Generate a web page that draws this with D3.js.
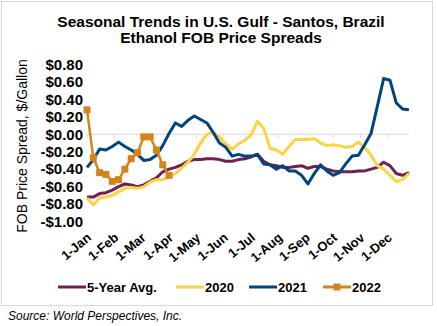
<!DOCTYPE html>
<html>
<head>
<meta charset="utf-8">
<script src="https://cdn.jsdelivr.net/npm/d3@7/dist/d3.min.js"></script>
<style>
  html, body { margin: 0; padding: 0; background: #fff; }
  svg { display: block; font-family: "Liberation Sans", Arial, sans-serif; }
</style>
</head>
<body>
<svg id="chart" width="437" height="326"></svg>
<script>
// Month tick labels along the horizontal axis
const monthLabels = ["1-Jan","1-Feb","1-Mar","1-Apr","1-May","1-Jun","1-Jul","1-Aug","1-Sep","1-Oct","1-Nov","1-Dec"];
// Vertical axis ticks ($/gallon)
const yTicks = [-1.0, -0.8, -0.6, -0.4, -0.2, 0.0, 0.2, 0.4, 0.6, 0.8];

// Weekly spreads, $/gallon (52 weeks)
const avg5Year = [-0.72,-0.72,-0.68,-0.67,-0.64,-0.60,-0.57,-0.58,-0.60,-0.58,-0.54,-0.50,-0.43,-0.40,-0.38,-0.35,-0.31,-0.29,-0.29,-0.28,-0.28,-0.29,-0.31,-0.31,-0.29,-0.28,-0.26,-0.23,-0.31,-0.35,-0.36,-0.38,-0.38,-0.37,-0.36,-0.39,-0.37,-0.37,-0.40,-0.42,-0.43,-0.43,-0.43,-0.42,-0.42,-0.40,-0.38,-0.32,-0.36,-0.45,-0.47,-0.44];
const y2020 = [-0.73,-0.81,-0.73,-0.72,-0.70,-0.66,-0.62,-0.61,-0.62,-0.60,-0.55,-0.52,-0.52,-0.49,-0.45,-0.39,-0.32,-0.23,-0.10,0.00,0.02,-0.03,-0.11,-0.17,-0.11,-0.07,-0.01,0.15,0.07,-0.16,-0.18,-0.23,-0.14,-0.06,-0.06,-0.06,-0.05,-0.10,-0.13,-0.12,-0.13,-0.15,-0.14,-0.09,-0.15,-0.24,-0.36,-0.40,-0.47,-0.54,-0.52,-0.45];
const y2021 = [-0.38,-0.29,-0.17,-0.18,-0.14,-0.09,-0.14,-0.18,-0.23,-0.30,-0.29,-0.24,-0.13,0.01,0.13,0.09,0.16,0.21,0.17,0.13,0.02,-0.10,-0.15,-0.25,-0.23,-0.25,-0.25,-0.23,-0.34,-0.35,-0.40,-0.36,-0.42,-0.42,-0.47,-0.57,-0.45,-0.35,-0.42,-0.47,-0.44,-0.34,-0.25,-0.24,-0.12,0.01,0.32,0.64,0.62,0.36,0.29,0.28];
const y2022 = [0.28,-0.27,-0.44,-0.46,-0.54,-0.52,-0.40,-0.28,-0.21,-0.03,-0.03,-0.18,-0.35,-0.47];

const seriesNames = ["5-Year Avg.", "2020", "2021", "2022"];
const seriesColors = ["#71204F", "#FDD344", "#00457F", "#D4841A"];
const seriesValues = [avg5Year, y2020, y2021, y2022];

const WEEKS_PER_YEAR = 52;
const svg = d3.select("#chart");

// Outer frame
svg.append("rect")
  .attr("x", 1.5).attr("y", 1.5).attr("width", 431).attr("height", 304)
  .attr("fill", "#fff").attr("stroke", "#d9d9d9").attr("stroke-width", 1);

// Title (two lines)
svg.append("text")
  .attr("x", 221).attr("y", 27)
  .attr("text-anchor", "middle")
  .attr("font-size", 15.5).attr("font-weight", "bold").attr("fill", "#000")
  .text("Seasonal Trends in U.S. Gulf - Santos, Brazil");
svg.append("text")
  .attr("x", 221).attr("y", 43)
  .attr("text-anchor", "middle")
  .attr("font-size", 15.5).attr("font-weight", "bold").attr("fill", "#000")
  .text("Ethanol FOB Price Spreads");

// Scales: x in months since 1-Jan, weekly points placed at week*12/52
const x = d3.scaleLinear().domain([0, 12]).range([87, 87 + 12 * 27.35]);
const y = d3.scaleLinear().domain([-1, 0.8]).range([221.5, 64.5]);
const weekPos = i => x(i * 12 / WEEKS_PER_YEAR);

// Zero gridline with month tick marks
const lastX = weekPos(WEEKS_PER_YEAR - 1);
svg.append("line")
  .attr("x1", x(0)).attr("x2", lastX)
  .attr("y1", y(0)).attr("y2", y(0))
  .attr("stroke", "#d9d9d9").attr("stroke-width", 1);
svg.append("g").selectAll("line")
  .data(d3.range(monthLabels.length))
  .join("line")
  .attr("x1", d => x(d)).attr("x2", d => x(d))
  .attr("y1", y(0)).attr("y2", y(0) + 4)
  .attr("stroke", "#d9d9d9").attr("stroke-width", 1);

// Y axis labels
const yAxis = d3.axisLeft(y)
  .tickValues(yTicks)
  .tickSize(0)
  .tickPadding(0)
  .tickFormat(v => (v < -1e-9 ? "-$" : "$") + Math.abs(v).toFixed(2));
const gy = svg.append("g").attr("transform", "translate(83,0)").call(yAxis);
gy.select(".domain").remove();
gy.selectAll("text")
  .attr("font-size", 15).attr("font-weight", "bold").attr("fill", "#000")
  .attr("font-family", "Liberation Sans, Arial, sans-serif");

// Y axis title
svg.append("text")
  .attr("transform", "translate(27,146) rotate(-90)")
  .attr("text-anchor", "middle")
  .attr("font-size", 14).attr("fill", "#000")
  .text("FOB Price Spread, $/Gallon");

// X axis month labels, slanted, placed below the plot
svg.append("g").selectAll("text")
  .data(monthLabels)
  .join("text")
  .attr("transform", (d, i) => `translate(${x(i) + 5},${239}) rotate(-40)`)
  .attr("text-anchor", "end")
  .attr("font-size", 13).attr("font-weight", "bold").attr("fill", "#000")
  .text(d => d);

// Lines
const line = d3.line()
  .x((d, i) => weekPos(i))
  .y(d => y(d));

seriesValues.forEach((vals, s) => {
  svg.append("path")
    .datum(vals)
    .attr("fill", "none")
    .attr("stroke", seriesColors[s])
    .attr("stroke-width", s === 3 ? 2.5 : 3)
    .attr("stroke-linejoin", "round")
    .attr("d", line);
});

// Square markers for 2022
svg.append("g").selectAll("rect")
  .data(y2022)
  .join("rect")
  .attr("x", (d, i) => weekPos(i) - 3.5)
  .attr("y", d => y(d) - 3.5)
  .attr("width", 7).attr("height", 7)
  .attr("fill", seriesColors[3]);

// Legend
const legendX = [58, 176, 249, 323];
const legendY = 287;
const lg = svg.append("g");
seriesNames.forEach((name, s) => {
  const gx = legendX[s];
  lg.append("line")
    .attr("x1", gx).attr("x2", gx + 28)
    .attr("y1", legendY).attr("y2", legendY)
    .attr("stroke", seriesColors[s]).attr("stroke-width", 3);
  if (s === 3) {
    lg.append("rect")
      .attr("x", gx + 14 - 3.5).attr("y", legendY - 3.5)
      .attr("width", 7).attr("height", 7)
      .attr("fill", seriesColors[s]);
  }
  lg.append("text")
    .attr("x", gx + 29).attr("y", legendY + 4.5)
    .attr("font-size", 13).attr("font-weight", "bold").attr("fill", "#000")
    .text(name);
});

// Source note
svg.append("text")
  .attr("x", 8).attr("y", 320)
  .attr("font-size", 12).attr("font-style", "italic").attr("fill", "#000")
  .text("Source: World Perspectives, Inc.");
</script>
</body>
</html>
